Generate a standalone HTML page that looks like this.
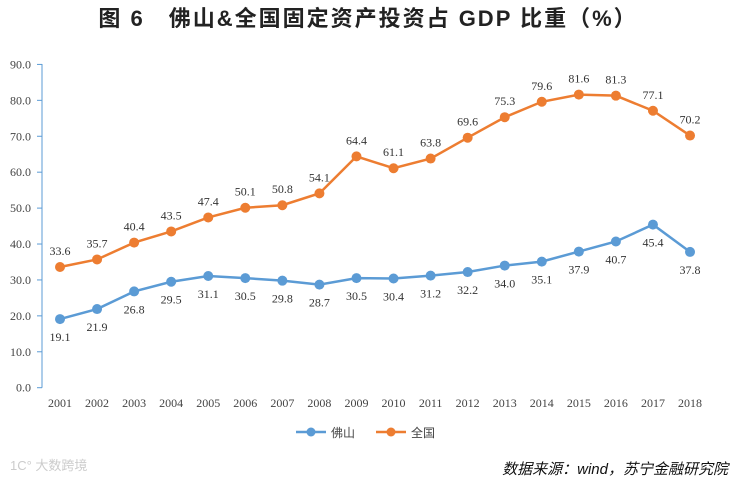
<!DOCTYPE html>
<html><head><meta charset="utf-8"><style>
body{margin:0;background:#fff;width:736px;height:482px;overflow:hidden}
svg text{font-family:"Liberation Serif",serif}
</style></head><body>
<svg width="736" height="482">
<text x="368" y="26" text-anchor="middle" font-size="22" letter-spacing="2" font-weight="bold" fill="#222" style="font-family:'Liberation Sans','Noto Sans CJK SC',sans-serif">图 6　佛山&amp;全国固定资产投资占 GDP 比重（%）</text>
<g id="axes"></g><g id="series"></g>
<g>
<line x1="296" y1="432" x2="326" y2="432" stroke="#5b9bd5" stroke-width="2.5"/><circle cx="311" cy="432" r="4.5" fill="#5b9bd5"/>
<text x="331" y="437" font-size="12" fill="#444" style="font-family:'Liberation Sans','Noto Sans CJK SC',sans-serif">佛山</text>
<line x1="376" y1="432" x2="406" y2="432" stroke="#ed7d31" stroke-width="2.5"/><circle cx="391" cy="432" r="4.5" fill="#ed7d31"/>
<text x="411" y="437" font-size="12" fill="#444" style="font-family:'Liberation Sans','Noto Sans CJK SC',sans-serif">全国</text>
</g>
<text x="10" y="470" font-size="13" fill="#ccc" style="font-family:'Liberation Sans','Noto Sans CJK SC',sans-serif">1C° 大数跨境</text>
<text x="728" y="474" text-anchor="end" font-size="15" font-style="italic" fill="#111" style="font-family:'Liberation Sans','Noto Sans CJK SC',sans-serif">数据来源：wind，苏宁金融研究院</text>
</svg>
<script>
const years=["2001","2002","2003","2004","2005","2006","2007","2008","2009","2010","2011","2012","2013","2014","2015","2016","2017","2018"];
const foshan=[19.1,21.9,26.8,29.5,31.1,30.5,29.8,28.7,30.5,30.4,31.2,32.2,34.0,35.1,37.9,40.7,45.4,37.8];
const national=[33.6,35.7,40.4,43.5,47.4,50.1,50.8,54.1,64.4,61.1,63.8,69.6,75.3,79.6,81.6,81.3,77.1,70.2];
const yTicks=[0,10,20,30,40,50,60,70,80,90];
const NS="http://www.w3.org/2000/svg";
const x=i=>60+i*37.06, y=v=>387.7-v*3.592;
function mk(t,a,p){const e=document.createElementNS(NS,t);for(const k in a)e.setAttribute(k,a[k]);p.appendChild(e);return e;}
const ax=document.getElementById('axes');
const al=mk('line',{x1:42,y1:64,x2:42,y2:387.7,stroke:'#5b9bd5','stroke-width':1},ax);


yTicks.forEach(v=>{
 mk('line',{x1:37,y1:y(v),x2:42,y2:y(v),stroke:'#5b9bd5'},ax);
 const t=mk('text',{x:31,y:y(v)+4,'text-anchor':'end','font-size':12,fill:'#444'},ax);t.textContent=v.toFixed(1);
 
 
});
years.forEach((yr,i)=>{
 const t=mk('text',{x:x(i),y:407,'text-anchor':'middle','font-size':12,fill:'#444'},ax);t.textContent=yr;
 
 
});
const sg=document.getElementById('series');
function draw(data,color,name,above){
 const p=mk('polyline',{points:data.map((v,i)=>x(i)+','+y(v)).join(' '),fill:'none',stroke:color,'stroke-width':2.5},sg);
 
 
 data.forEach((v,i)=>{
  const c=mk('circle',{cx:x(i),cy:y(v),r:5,fill:color},sg);
  
  
  const t=mk('text',{x:x(i),y:above?y(v)-12:y(v)+22,'text-anchor':'middle','font-size':12,fill:'#333'},sg);t.textContent=v.toFixed(1);
  
  
 });
}
draw(foshan,'#5b9bd5','foshan',false);
draw(national,'#ed7d31','national',true);
</script>
</body></html>
